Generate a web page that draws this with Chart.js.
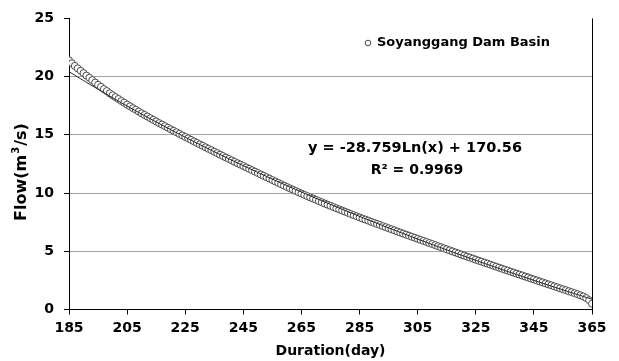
<!DOCTYPE html>
<html lang="en">
<head>
  <meta charset="UTF-8" />
  <title>Soyanggang Dam Basin - Flow Duration</title>
  <script src="https://cdn.jsdelivr.net/npm/chart.js"></script>
  <style>
    html, body { margin: 0; padding: 0; background: #fff; }
    #wrap { width: 619px; height: 361px; position: relative; }
  </style>
</head>
<body>
  <div id="wrap"><canvas id="flowChart" width="619" height="361"></canvas></div>
  <script>
    const days = [];
    for (let d = 185; d <= 365; d++) days.push(d);
    const flows = [
      21.40, 21.15, 20.92, 20.71, 20.50, 20.30, 20.09, 19.90, 19.70, 19.49,
      19.30, 19.12, 18.93, 18.76, 18.57, 18.40, 18.24, 18.08, 17.91, 17.76,
      17.60, 17.45, 17.29, 17.15, 17.00, 16.85, 16.71, 16.57, 16.43, 16.29,
      16.15, 16.01, 15.88, 15.75, 15.61, 15.48, 15.35, 15.22, 15.08, 14.95,
      14.82, 14.70, 14.57, 14.44, 14.31, 14.18, 14.06, 13.93, 13.80, 13.68,
      13.55, 13.43, 13.30, 13.18, 13.05, 12.93, 12.81, 12.68, 12.56, 12.44,
      12.32, 12.20, 12.08, 11.96, 11.84, 11.72, 11.60, 11.48, 11.36, 11.24,
      11.12, 11.00, 10.88, 10.76, 10.64, 10.52, 10.41, 10.30, 10.18, 10.07,
      9.96, 9.85, 9.74, 9.63, 9.53, 9.42, 9.31, 9.21, 9.10, 9.00,
      8.90, 8.80, 8.70, 8.60, 8.50, 8.40, 8.30, 8.20, 8.10, 8.01,
      7.91, 7.81, 7.72, 7.63, 7.53, 7.44, 7.35, 7.26, 7.16, 7.07,
      6.98, 6.89, 6.80, 6.70, 6.61, 6.52, 6.43, 6.34, 6.25, 6.16,
      6.07, 5.98, 5.89, 5.80, 5.71, 5.62, 5.53, 5.44, 5.35, 5.26,
      5.17, 5.08, 4.99, 4.90, 4.81, 4.72, 4.63, 4.54, 4.46, 4.37,
      4.28, 4.19, 4.11, 4.02, 3.94, 3.85, 3.76, 3.68, 3.59, 3.51,
      3.42, 3.34, 3.25, 3.17, 3.08, 3.00, 2.92, 2.83, 2.75, 2.66,
      2.58, 2.50, 2.41, 2.33, 2.24, 2.16, 2.08, 1.99, 1.91, 1.82,
      1.74, 1.66, 1.57, 1.49, 1.40, 1.32, 1.22, 1.12, 0.98, 0.80,
      0.50
    ];
    const xTicks = [185, 205, 225, 245, 265, 285, 305, 325, 345, 365];
    const yTicks = [0, 5, 10, 15, 20, 25];
    const seriesName = 'Soyanggang Dam Basin';

    // logarithmic trendline as printed on the chart
    const trendA = -28.759;
    const trendB = 170.56;
    const trendR2 = 0.9969;

    const points = days.map((d, i) => ({ x: d, y: flows[i] }));
    const trend = days.map(d => ({ x: d, y: trendA * Math.log(d) + trendB }));

    const FONT = '"DejaVu Sans", Verdana, sans-serif';

    const labels = {
      id: 'labels',
      afterDraw(chart) {
        const c = chart.ctx;
        const area = chart.chartArea;
        c.save();
        c.fillStyle = '#000';

        // legend
        c.beginPath();
        c.arc(368, 43, 2.8, 0, Math.PI * 2);
        c.strokeStyle = '#444';
        c.lineWidth = 1;
        c.stroke();
        c.font = 'bold 13px ' + FONT;
        c.textAlign = 'left';
        c.textBaseline = 'middle';
        c.fillText(seriesName, 377, 43);

        // equation
        c.textAlign = 'center';
        c.font = 'bold 14.5px ' + FONT;
        c.fillText('y = ' + trendA + 'Ln(x) + ' + trendB, 415, 148);
        c.font = 'bold 14px ' + FONT;
        c.fillText('R\u00b2 = ' + trendR2, 417, 170);

        // x axis title
        c.font = 'bold 14px ' + FONT;
        c.fillText('Duration(day)', (area.left + area.right) / 2, 351);

        // y axis title with superscript
        const big = 'bold 16px ' + FONT, small = 'bold 10px ' + FONT;
        c.font = big;
        const w1 = c.measureText('Flow(m').width;
        const w3 = c.measureText('/s)').width;
        c.font = small;
        const w2 = c.measureText('3').width + 2;
        const total = w1 + w2 + w3;
        c.translate(22, 172);
        c.rotate(-Math.PI / 2);
        c.textAlign = 'left';
        c.font = big;
        c.fillText('Flow(m', -total / 2, 0);
        c.font = small;
        c.fillText('3', -total / 2 + w1 + 1, -6);
        c.font = big;
        c.fillText('/s)', -total / 2 + w1 + w2, 0);
        c.restore();

        // right edge of plot area
        c.save();
        c.strokeStyle = '#000';
        c.lineWidth = 1;
        c.beginPath();
        c.moveTo(Math.round(area.right) + 0.5, area.top);
        c.lineTo(Math.round(area.right) + 0.5, area.bottom);
        c.stroke();
        c.restore();
      }
    };

    new Chart(document.getElementById('flowChart'), {
      type: 'scatter',
      data: {
        datasets: [
          {
            label: 'Log trend',
            type: 'line',
            data: trend,
            borderColor: '#222',
            borderWidth: 1,
            pointRadius: 0,
            fill: false,
            order: 0
          },
          {
            label: seriesName,
            data: points,
            pointStyle: 'circle',
            pointRadius: 3.5,
            pointBorderWidth: 1,
            pointBorderColor: '#4a4a4a',
            pointBackgroundColor: '#fff',
            order: 1
          }
        ]
      },
      options: {
        responsive: false,
        animation: false,
        layout: { padding: { left: 0, right: 27, top: 14, bottom: 0 } },
        plugins: { legend: { display: false }, tooltip: { enabled: false } },
        scales: {
          x: {
            type: 'linear',
            min: 185,
            max: 365,
            afterBuildTicks: s => { s.ticks = xTicks.map(v => ({ value: v })); },
            afterFit: s => { s.height = 51.5; },
            grid: { drawOnChartArea: false, tickLength: 5, tickColor: '#000' },
            border: { color: '#000', width: 1 },
            ticks: { color: '#000', font: { family: FONT, size: 14, weight: 'bold' }, padding: 5, maxRotation: 0 }
          },
          y: {
            min: 0,
            max: 25,
            afterBuildTicks: s => { s.ticks = yTicks.map(v => ({ value: v })); },
            afterFit: s => { s.width = 69; },
            grid: {
              color: c => (c.tick && c.tick.value === 25) ? 'rgba(0,0,0,0)' : '#a6a6a6',
              tickColor: '#000',
              tickLength: 5
            },
            border: { color: '#000', width: 1 },
            ticks: { color: '#000', font: { family: FONT, size: 14, weight: 'bold' }, padding: 10 }
          }
        }
      },
      plugins: [labels]
    });
  </script>
</body>
</html>
